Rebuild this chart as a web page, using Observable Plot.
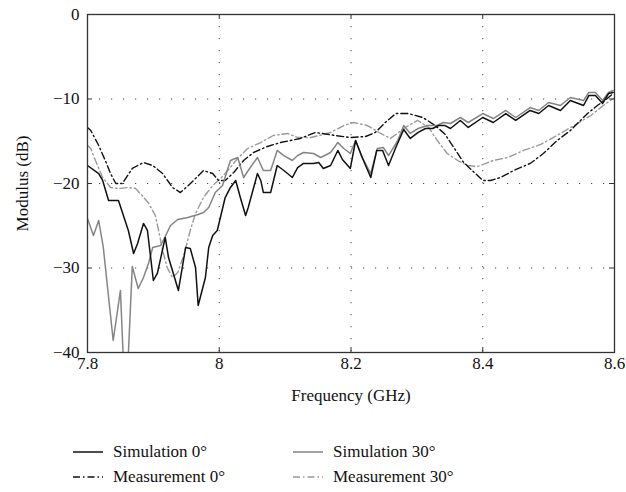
<!DOCTYPE html>
<html>
<head>
<meta charset="utf-8">
<script src="https://cdn.jsdelivr.net/npm/d3@7"></script>
<script src="https://cdn.jsdelivr.net/npm/@observablehq/plot@0.6"></script>
<style>
  body { margin: 0; background: #fff; }
  #wrap { position: relative; width: 626px; height: 492px; font-family: "Liberation Serif", "Times New Roman", "DejaVu Serif", serif; }
  #wrap svg text { font-family: "Liberation Serif", "Times New Roman", "DejaVu Serif", serif; }
  .leg { position: absolute; font-size: 17px; color: #111; display: flex; align-items: center; white-space: nowrap; font-family: "Liberation Serif", "Times New Roman", "DejaVu Serif", serif; }
  .leg svg { margin-right: 10px; }
</style>
</head>
<body>
<div id="wrap"></div>
<script>
const xTicks = [7.8, 8.0, 8.2, 8.4, 8.6];
const yTicks = [0, -10, -20, -30, -40];

const sim0X = [7.800,7.817,7.823,7.832,7.847,7.862,7.870,7.876,7.885,7.891,7.900,7.906,7.918,7.923,7.938,7.949,7.956,7.964,7.968,7.979,7.984,7.990,7.997,8.009,8.017,8.025,8.032,8.040,8.044,8.058,8.063,8.067,8.078,8.088,8.098,8.111,8.119,8.128,8.143,8.151,8.158,8.169,8.180,8.187,8.199,8.207,8.217,8.230,8.239,8.248,8.257,8.268,8.280,8.290,8.302,8.313,8.324,8.333,8.343,8.351,8.366,8.378,8.400,8.416,8.435,8.450,8.472,8.485,8.500,8.518,8.533,8.553,8.561,8.571,8.582,8.591,8.598];
const sim0Y = [-17.87,-18.82,-19.64,-22.01,-22.01,-25.56,-28.28,-27.10,-24.73,-25.56,-31.48,-30.65,-26.39,-28.76,-32.66,-27.57,-27.69,-29.94,-34.44,-31.12,-27.57,-26.15,-25.56,-21.66,-20.47,-19.64,-21.66,-23.79,-22.84,-18.82,-19.64,-21.07,-21.07,-17.87,-18.46,-19.29,-18.11,-17.63,-17.63,-17.51,-18.22,-17.87,-16.09,-17.16,-18.22,-14.91,-16.92,-19.29,-16.09,-16.09,-17.87,-15.74,-13.61,-14.67,-13.96,-13.49,-13.49,-13.14,-13.14,-13.49,-12.54,-13.37,-12.19,-12.78,-11.72,-12.54,-11.36,-11.72,-10.77,-11.36,-10.18,-10.77,-9.59,-9.59,-10.53,-9.35,-9.23];

const sim30X = [7.800,7.809,7.817,7.824,7.839,7.850,7.855,7.861,7.868,7.877,7.885,7.893,7.899,7.911,7.918,7.926,7.937,7.952,7.968,7.976,7.984,7.994,8.005,8.017,8.028,8.037,8.044,8.058,8.067,8.078,8.088,8.098,8.111,8.119,8.128,8.143,8.154,8.169,8.180,8.189,8.199,8.207,8.217,8.230,8.240,8.249,8.257,8.271,8.280,8.290,8.302,8.316,8.331,8.340,8.351,8.366,8.378,8.400,8.416,8.435,8.450,8.472,8.485,8.500,8.518,8.533,8.553,8.561,8.571,8.582,8.591,8.598];
const sim30Y = [-24.14,-26.15,-24.38,-27.57,-38.58,-32.66,-42.0,-42.0,-29.82,-32.43,-31.12,-29.35,-27.57,-27.34,-26.27,-24.97,-24.26,-24.02,-23.67,-23.43,-22.84,-21.07,-20.24,-17.28,-16.92,-19.29,-18.46,-16.92,-18.46,-18.46,-16.09,-16.69,-17.28,-16.69,-16.33,-16.45,-16.92,-16.33,-15.15,-15.86,-16.45,-14.91,-16.92,-18.82,-15.86,-15.74,-16.69,-14.91,-13.14,-14.08,-13.49,-13.14,-13.14,-12.78,-12.90,-12.19,-12.78,-11.72,-12.31,-11.36,-12.19,-11.01,-11.36,-10.41,-10.77,-9.82,-10.18,-9.23,-9.23,-10.18,-9.23,-8.99];

const meas0X = [7.800,7.805,7.817,7.827,7.835,7.843,7.853,7.861,7.868,7.885,7.899,7.914,7.929,7.941,7.953,7.964,7.976,7.990,7.999,8.009,8.022,8.037,8.052,8.073,8.093,8.108,8.123,8.146,8.176,8.199,8.222,8.237,8.252,8.268,8.287,8.309,8.328,8.343,8.356,8.371,8.384,8.400,8.412,8.427,8.447,8.472,8.492,8.513,8.533,8.559,8.574,8.589,8.598];
const meas0Y = [-13.37,-13.73,-15.50,-17.28,-18.82,-20.00,-20.00,-19.05,-18.22,-17.51,-17.87,-18.82,-20.47,-21.07,-20.24,-19.41,-18.46,-18.82,-19.64,-19.64,-18.70,-17.28,-16.33,-15.62,-15.15,-14.91,-14.67,-13.96,-14.32,-14.56,-14.44,-13.96,-12.78,-11.72,-11.72,-12.19,-13.14,-14.20,-15.74,-17.51,-18.46,-19.64,-19.64,-19.29,-18.46,-17.63,-16.45,-14.91,-13.73,-11.72,-10.77,-9.94,-9.35];

const meas30X = [7.800,7.805,7.812,7.823,7.835,7.847,7.862,7.873,7.883,7.893,7.903,7.908,7.914,7.921,7.929,7.937,7.946,7.956,7.964,7.976,7.990,8.002,8.013,8.028,8.043,8.063,8.082,8.104,8.119,8.139,8.169,8.189,8.204,8.225,8.245,8.260,8.280,8.301,8.318,8.331,8.346,8.362,8.377,8.392,8.416,8.438,8.462,8.488,8.518,8.544,8.564,8.583,8.598];
const meas30Y = [-15.50,-15.86,-17.28,-19.29,-20.47,-20.59,-20.47,-20.59,-21.42,-22.37,-23.79,-25.56,-27.93,-29.94,-31.12,-30.53,-28.52,-25.56,-23.55,-21.66,-20.24,-19.41,-18.46,-17.04,-15.86,-15.15,-14.32,-14.08,-14.56,-14.56,-13.96,-13.14,-12.78,-13.14,-14.08,-14.67,-13.49,-12.54,-13.37,-14.91,-16.45,-17.28,-17.87,-17.99,-17.28,-16.92,-16.09,-15.38,-14.08,-12.90,-11.95,-10.77,-9.94];

const seriesNames = ["Simulation 0°", "Measurement 0°", "Simulation 30°", "Measurement 30°"];

const toRows = (xs, ys) => xs.map((x, i) => ({x, y: ys[i]}));
const sim0 = toRows(sim0X, sim0Y);
const sim30 = toRows(sim30X, sim30Y);
const meas0 = toRows(meas0X, meas0Y);
const meas30 = toRows(meas30X, meas30Y);

const W = 626, H = 425, mt = 14, mb = 73, ml = 87, mr = 12;
const innerH = H - mt - mb, innerW = W - ml - mr;
const dashDot = "7,3,1.5,3";
const gridDash = "1.2,10.8";
const serif = '"Liberation Serif", "Times New Roman", "DejaVu Serif", serif';

const chart = Plot.plot({
  width: W, height: H,
  marginTop: mt, marginBottom: mb, marginLeft: ml, marginRight: mr,
  style: {fontFamily: serif, fontSize: "17px", color: "#111", background: "#fff"},
  x: {domain: [7.8, 8.6]},
  y: {domain: [-40, 0]},
  marks: [
    Plot.gridX(xTicks.slice(1, -1), {stroke: "#333", strokeOpacity: 0.9, strokeDasharray: gridDash}),
    Plot.gridY(yTicks.slice(1, -1), {stroke: "#333", strokeOpacity: 0.9, strokeDasharray: gridDash}),
    Plot.line(meas30, {x: "x", y: "y", stroke: "#9a9a9a", strokeWidth: 1.4, strokeDasharray: dashDot, clip: true}),
    Plot.line(meas0, {x: "x", y: "y", stroke: "#111", strokeWidth: 1.4, strokeDasharray: dashDot, clip: true}),
    Plot.line(sim30, {x: "x", y: "y", stroke: "#858585", strokeWidth: 1.5, clip: true}),
    Plot.line(sim0, {x: "x", y: "y", stroke: "#111", strokeWidth: 1.5, clip: true}),
    Plot.tickX(xTicks, {x: d => d, stroke: "#333", insetTop: innerH - 5}),
    Plot.tickX(xTicks, {x: d => d, stroke: "#333", insetBottom: innerH - 5}),
    Plot.tickY(yTicks, {y: d => d, stroke: "#333", insetRight: innerW - 5}),
    Plot.tickY(yTicks, {y: d => d, stroke: "#333", insetLeft: innerW - 5}),
    Plot.frame({stroke: "#333", strokeWidth: 1.3}),
    Plot.axisX(xTicks, {tickSize: 0, tickPadding: 4, tickFormat: d => d3.format("")(+d.toFixed(1)),
      label: "Frequency (GHz)", labelAnchor: "center", labelArrow: "none", labelOffset: 48}),
    Plot.axisY(yTicks, {tickSize: 0, tickPadding: 8,
      label: "Modulus (dB)", labelAnchor: "center", labelArrow: "none", labelOffset: 72})
  ]
});

const wrap = document.getElementById("wrap");
wrap.appendChild(chart);

const legendSpec = [
  {name: seriesNames[0], stroke: "#111", dash: null, left: 73, top: 452},
  {name: seriesNames[1], stroke: "#111", dash: dashDot, left: 73, top: 477},
  {name: seriesNames[2], stroke: "#858585", dash: null, left: 293, top: 452},
  {name: seriesNames[3], stroke: "#9a9a9a", dash: dashDot, left: 293, top: 477}
];
for (const s of legendSpec) {
  const div = document.createElement("div");
  div.className = "leg";
  div.style.left = s.left + "px";
  div.style.top = (s.top - 11) + "px";
  div.style.height = "22px";
  div.innerHTML = `<svg width="30" height="10"><line x1="0" y1="5" x2="30" y2="5" stroke="${s.stroke}" stroke-width="1.5" ${s.dash ? `stroke-dasharray="${s.dash}"` : ""}/></svg><span>${s.name}</span>`;
  wrap.appendChild(div);
}
</script>
</body>
</html>
